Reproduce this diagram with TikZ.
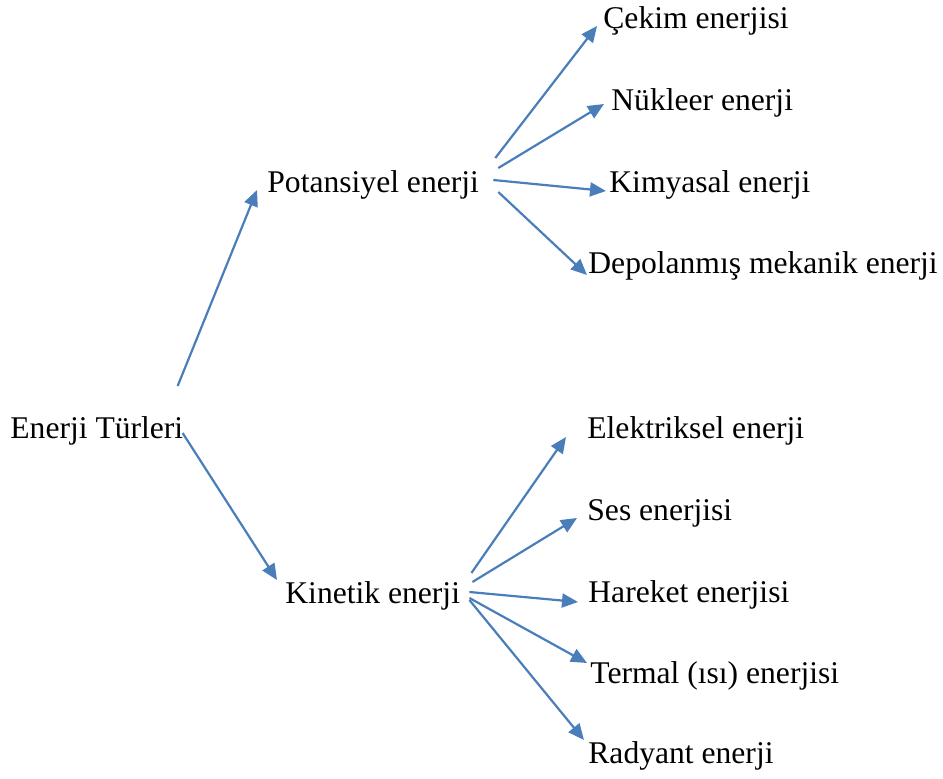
\documentclass[tikz,border=0pt]{standalone}
\usepackage{fontspec}
\setmainfont{Liberation Serif}
\usetikzlibrary{arrows.meta}
\definecolor{okmavi}{RGB}{74,126,187}
\begin{document}
\begin{tikzpicture}[x=0.5pt,y=-0.5pt]
  \tikzstyle{every node}=[anchor=base west,inner sep=0pt,font=\fontsize{15.8}{19}\selectfont]
  \tikzstyle{link}=[draw=okmavi,line width=1.1pt,-{Triangle[length=8pt,width=7pt]}]
  \useasboundingbox (0,0) rectangle (943,778);
  \node (tur) at (10,438) {Enerji Türleri};
  \node (pot) at (267,192) {Potansiyel enerji};
  \node (kin) at (285,603) {Kinetik enerji};
  \node (cek) at (603,28) {Çekim enerjisi};
  \node (nuk) at (611,110) {Nükleer enerji};
  \node (kim) at (609,192) {Kimyasal enerji};
  \node (dep) at (588,273) {Depolanmış mekanik enerji};
  \node (ele) at (587,438) {Elektriksel enerji};
  \node (ses) at (587,520) {Ses enerjisi};
  \node (har) at (588,602) {Hareket enerjisi};
  \node (ter) at (590,683) {Termal (ısı) enerjisi};
  \node (rad) at (588,763) {Radyant enerji};
  \draw[link] ([shift={(-6,-52)}]tur.base east) -- ([shift={(-10,-2)}]pot.base west);
  \draw[link] ([shift={(-1,-5)}]tur.base east) -- ([shift={(-8,-23)}]kin.base west);
  \draw[link] ([shift={(16,-34)}]pot.base east) -- ([shift={(-6,-2)}]cek.base west);
  \draw[link] ([shift={(19,-24)}]pot.base east) -- ([shift={(-7,-6)}]nuk.base west);
  \draw[link] ([shift={(14,-12)}]pot.base east) -- ([shift={(-3,-1)}]kim.base west);
  \draw[link] ([shift={(19,0)}]pot.base east) -- ([shift={(-1,2)}]dep.base west);
  \draw[link] ([shift={(11,-30)}]kin.base east) -- ([shift={(-21,-1)}]ele.base west);
  \draw[link] ([shift={(12,-21)}]kin.base east) -- ([shift={(-10,-2)}]ses.base west);
  \draw[link] ([shift={(9,-11)}]kin.base east) -- ([shift={(-10,0)}]har.base west);
  \draw[link] ([shift={(9,-5)}]kin.base east) -- ([shift={(-3,-20)}]ter.base west);
  \draw[link] ([shift={(9,-3)}]kin.base east) -- ([shift={(-4,-23)}]rad.base west);
\end{tikzpicture}
\end{document}
